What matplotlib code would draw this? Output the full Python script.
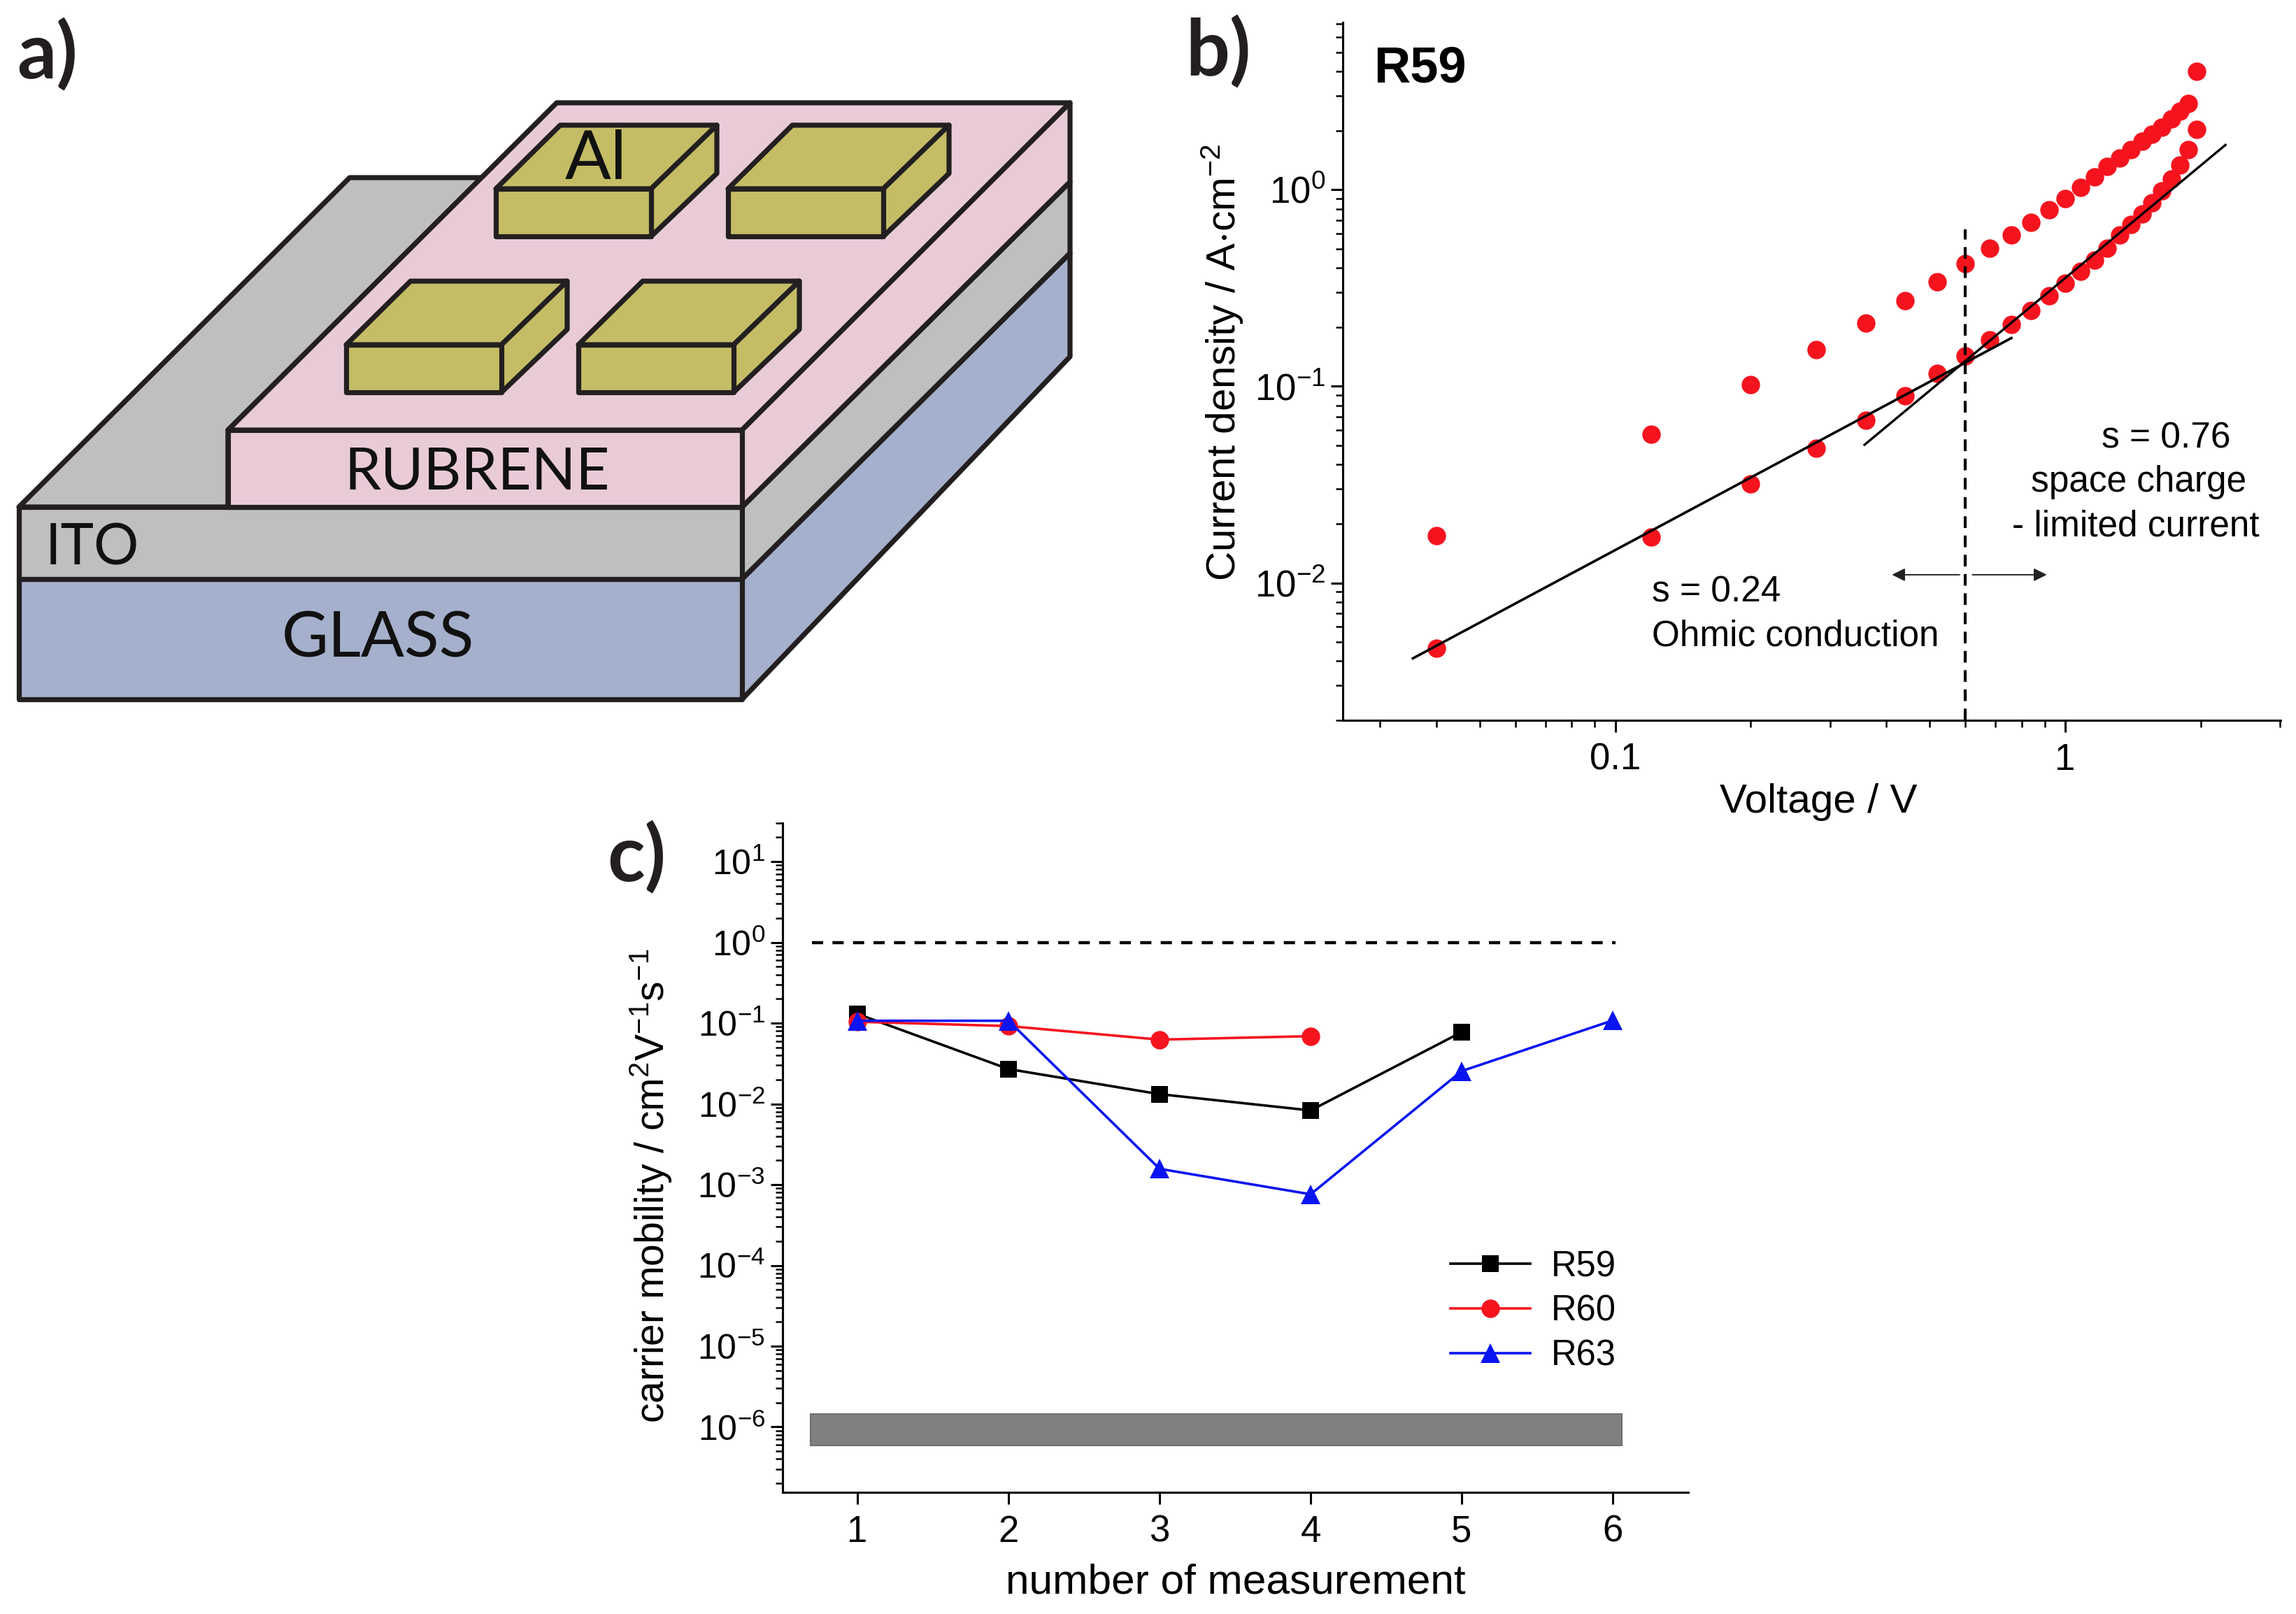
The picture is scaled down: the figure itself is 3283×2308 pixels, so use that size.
import numpy as np
import matplotlib
matplotlib.use('Agg')
import matplotlib.pyplot as plt
from matplotlib.patches import Polygon, Rectangle
from matplotlib.ticker import LogLocator, NullFormatter, FixedLocator, FixedFormatter

W, H = 3283, 2308
plt.rcParams['font.family'] = ['Liberation Sans', 'DejaVu Sans']
plt.rcParams['mathtext.fontset'] = 'custom'
plt.rcParams['mathtext.rm'] = 'Liberation Sans'
plt.rcParams['mathtext.it'] = 'Liberation Sans'
plt.rcParams['mathtext.default'] = 'regular'

# panel b, J-V curve
voltage = [0.04, 0.12, 0.20, 0.28, 0.36, 0.44, 0.52, 0.60, 0.68, 0.76, 0.84, 0.92, 1.00,
           1.08, 1.16, 1.24, 1.32, 1.40, 1.48, 1.56, 1.64, 1.72, 1.80, 1.88, 1.96]
j_forward = [0.00466, 0.01714, 0.0319, 0.0485, 0.0671, 0.0891, 0.116, 0.1425, 0.172, 0.206,
             0.244, 0.289, 0.334, 0.384, 0.437, 0.505, 0.587, 0.665, 0.755, 0.855, 0.987,
             1.13, 1.33, 1.60, 2.03]
j_back = [0.0174, 0.057, 0.102, 0.153, 0.21, 0.272, 0.34, 0.419, 0.502, 0.59, 0.682, 0.793,
          0.90, 1.025, 1.16, 1.31, 1.45, 1.60, 1.76, 1.91, 2.08, 2.29, 2.50, 2.74, 3.99]
fit_low_x, fit_low_y = [0.0355, 0.759], [0.00413, 0.176]
fit_high_x, fit_high_y = [0.358, 2.27], [0.0504, 1.69]

# panel c, mobility
r59_x, r59_y = [1, 2, 3, 4, 5], [0.13, 0.027, 0.0132, 0.0083, 0.0775]
r60_x, r60_y = [1, 2, 3, 4], [0.104, 0.092, 0.0625, 0.069]
r63_x, r63_y = [1, 2, 3, 4, 5, 6], [0.107, 0.107, 0.00157, 0.00076, 0.0255, 0.108]

line_col = '#231f20'
glass_col = '#a5b0cc'
ito_col = '#bfbfbf'
rub_col = '#e9cbd8'
al_col = '#c4bd66'


def axes_px(left, top, right, bottom):
    return fig.add_axes([left / W, 1 - bottom / H, (right - left) / W, (bottom - top) / H])


fig = plt.figure(figsize=(W / 100, H / 100), dpi=100)

# overlay in pixel coordinates for schematic a) and free text
over = fig.add_axes([0, 0, 1, 1], zorder=5)
over.set_xlim(0, W)
over.set_ylim(H, 0)
over.axis('off')
over.patch.set_alpha(0)


def poly(pts, col):
    over.add_patch(Polygon(pts, closed=True, fc=col, ec=line_col, lw=5.2, joinstyle='round'))


poly([(27, 725), (500, 254), (689, 254), (326, 615), (326, 725)], ito_col)
poly([(1061, 828), (1530, 362), (1530, 510), (1061, 1000)], glass_col)
poly([(1061, 725), (1530, 260), (1530, 362), (1061, 828)], ito_col)
poly([(27, 828), (1061, 828), (1061, 1000), (27, 1000)], glass_col)
poly([(27, 725), (1061, 725), (1061, 828), (27, 828)], ito_col)
poly([(326, 615), (796, 147), (1530, 147), (1061, 615)], rub_col)
poly([(1061, 615), (1530, 147), (1530, 260), (1061, 725)], rub_col)
poly([(326, 615), (1061, 615), (1061, 725), (326, 725)], rub_col)

for dx, dy in [(0, 0), (332, 0), (-214, 223), (118, 223)]:
    poly([(709 + dx, 270 + dy), (801 + dx, 179 + dy), (1025 + dx, 179 + dy), (931 + dx, 270 + dy)], al_col)
    poly([(931 + dx, 270 + dy), (1025 + dx, 179 + dy), (1025 + dx, 248 + dy), (931 + dx, 338 + dy)], al_col)
    poly([(709 + dx, 270 + dy), (931 + dx, 270 + dy), (931 + dx, 338 + dy), (709 + dx, 338 + dy)], al_col)

diagram_font = ['Lato', 'DejaVu Sans']
over.text(852, 229, 'Al', family=diagram_font, fontsize=70, ha='center', va='center', color='#111111')
over.text(682, 676, 'RUBRENE', family=diagram_font, fontsize=60, ha='center', va='center', color='#111111')
over.text(132, 784, 'ITO', family=diagram_font, fontsize=58, ha='center', va='center', color='#111111')
over.text(540, 914, 'GLASS', family=diagram_font, fontsize=66, ha='center', va='center', color='#111111')

label_font = ['Lato', 'DejaVu Sans']
over.text(24, 78, 'a)', family=label_font, fontweight='bold', fontsize=80, va='center', color=line_col)
over.text(1695, 74, 'b)', family=label_font, fontweight='bold', fontsize=80, va='center', color=line_col)
over.text(868, 1226, 'c)', family=label_font, fontweight='bold', fontsize=80, va='center', color=line_col)

# b) J-V
axb = axes_px(1920, 32, 3261, 1030)
axb.set_xscale('log')
axb.set_yscale('log')
axb.set_xlim(0.0248, 3.01)
axb.set_ylim(0.002, 7.1)
axb.plot(voltage, j_forward, 'o', color='#f5141e', ms=19, mew=0, zorder=2)
axb.plot(voltage, j_back, 'o', color='#f5141e', ms=19, mew=0, zorder=2)
axb.plot(fit_low_x, fit_low_y, color='k', lw=2.6, zorder=3)
axb.plot(fit_high_x, fit_high_y, color='k', lw=2.4, zorder=3)
axb.plot([0.6, 0.6], [0.002, 0.63], color='k', lw=3, ls=(0, (4, 2.6)), zorder=3)
axb.annotate('', xy=(0.412, 0.011), xytext=(0.582, 0.011),
             arrowprops=dict(arrowstyle='-|>', color='#222222', lw=1.4, mutation_scale=28, shrinkA=0, shrinkB=0))
axb.annotate('', xy=(0.91, 0.011), xytext=(0.622, 0.011),
             arrowprops=dict(arrowstyle='-|>', color='#222222', lw=1.4, mutation_scale=28, shrinkA=0, shrinkB=0))
axb.xaxis.set_major_locator(FixedLocator([0.1, 1]))
axb.xaxis.set_major_formatter(FixedFormatter(['0.1', '1']))
axb.xaxis.set_minor_locator(LogLocator(base=10, subs=np.arange(2, 10), numticks=10))
axb.xaxis.set_minor_formatter(NullFormatter())
axb.yaxis.set_major_locator(FixedLocator([0.01, 0.1, 1]))
axb.yaxis.set_major_formatter(FixedFormatter(['$10^{-2}$', '$10^{-1}$', '$10^{0}$']))
axb.yaxis.set_minor_locator(LogLocator(base=10, subs=np.arange(2, 10), numticks=10))
axb.yaxis.set_minor_formatter(NullFormatter())
axb.set_xlabel('Voltage / V', fontsize=42, labelpad=6)
axb.set_ylabel('Current density / A$\\cdot$cm$^{-2}$', fontsize=42, labelpad=9)
axb.yaxis.label.set_y(0.512)
axb.xaxis.label.set_x(0.507)

over.text(1964, 99, 'R59', fontsize=52, fontweight='bold', va='center')
over.text(2362, 847, 's = 0.24', fontsize=37, va='center')
over.text(2362, 910, 'Ohmic conduction', fontsize=37, va='center')
over.text(3097, 627, 's = 0.76', fontsize=37, va='center', ha='center')
over.text(3058, 690, 'space charge', fontsize=37, va='center', ha='center')
over.text(3054, 753, '- limited current', fontsize=37, va='center', ha='center')

# c) mobility
axc = axes_px(1119, 1177, 2414, 2134)
axc.set_yscale('log')
axc.set_xlim(0.504, 6.5)
axc.set_ylim(1.55e-7, 30)
axc.add_patch(Rectangle((0.69, 5.9e-7), 6.06 - 0.69, 1.46e-6 - 5.9e-7, fc='#808080', ec='#6e6e6e', lw=1.5))
axc.plot([0.7, 6.02], [1, 1], color='k', lw=3.2, ls=(0, (3.6, 3)))
axc.plot(r59_x, r59_y, '-s', color='k', lw=2.6, ms=17, mew=0, label='R59', zorder=3)
axc.plot(r60_x, r60_y, '-o', color='#f5141e', lw=2.6, ms=19, mew=0, label='R60', zorder=4)
axc.plot(r63_x, r63_y, '-^', color='#0a14f0', lw=2.6, ms=20, mew=0, label='R63', zorder=5)
axc.set_xticks([1, 2, 3, 4, 5, 6])
axc.set_yticks([1e-6, 1e-5, 1e-4, 1e-3, 1e-2, 1e-1, 1, 10])
axc.set_yticklabels(['$10^{-6}$', '$10^{-5}$', '$10^{-4}$', '$10^{-3}$', '$10^{-2}$', '$10^{-1}$',
                     '$10^{0}$', '$10^{1}$'])
axc.yaxis.set_minor_locator(LogLocator(base=10, subs=np.arange(2, 10), numticks=20))
axc.yaxis.set_minor_formatter(NullFormatter())
axc.set_xlabel('number of measurement', fontsize=43.5, labelpad=14)
axc.set_ylabel('carrier mobility / cm$^{2}$V$^{-1}$s$^{-1}$', fontsize=41, labelpad=24)
axc.yaxis.label.set_y(0.458)
axc.legend(loc='upper left', bbox_to_anchor=(2074 / W, 1 - 1787 / H), bbox_transform=fig.transFigure,
           frameon=False, fontsize=36.5, borderpad=0, borderaxespad=0, labelspacing=0.29,
           handlelength=2.24, handletextpad=0.6, numpoints=1)

for ax in (axb, axc):
    ax.spines['top'].set_visible(False)
    ax.spines['right'].set_visible(False)
    ax.spines['left'].set_linewidth(2.2)
    ax.spines['bottom'].set_linewidth(2.2)
    ax.tick_params(which='major', direction='out', length=12, width=2.2, labelsize=38, pad=11)
    ax.tick_params(which='minor', direction='out', length=7, width=1.8)
    ax.patch.set_alpha(0)
axb.tick_params(axis='y', which='major', pad=6)
axc.tick_params(axis='y', which='major', pad=6, labelsize=36)

fig.savefig('out.png', dpi=100, facecolor='white')
